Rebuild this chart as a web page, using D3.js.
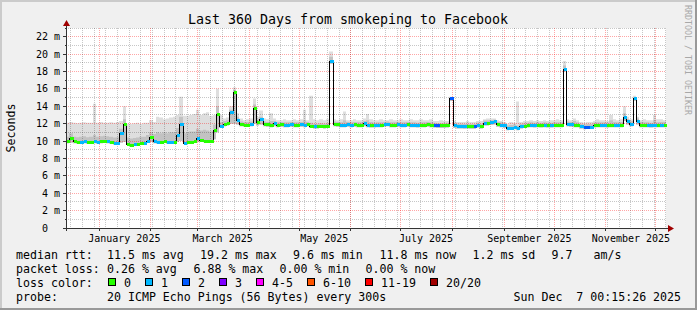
<!DOCTYPE html>
<html>
<head>
<meta charset="utf-8">
<script src="https://cdn.jsdelivr.net/npm/d3@7"></script>
<style>
  body { margin: 0; background: #fff; }
  svg text { font-family: "DejaVu Sans Mono", monospace; fill: #000; white-space: pre; }
</style>
</head>
<body>
<div id="chart"></div>
<script>
// ---- data (one value per 2 days, 360 days ending at endTime) ----
const endTime = new Date(Date.UTC(2025, 11, 7, 0, 15, 26));
const spanDays = 360;
const stepDays = 2;

const median = [
  9.95, 10.35, 9.95, 9.9, 9.9, 9.95, 9.85, 9.9, 9.95, 9.9,
  9.95, 10.0, 9.95, 9.9, 9.75, 9.75, 10.9, 12.0, 9.7, 9.6,
  9.65, 9.7, 9.75, 9.8, 10.0, 10.5, 9.95, 9.9, 9.9, 10.0,
  9.85, 9.9, 9.9, 10.7, 12.0, 9.8, 9.85, 9.9, 9.95, 10.35,
  10.1, 10.05, 10.0, 10.0, 11.3, 13.1, 11.7, 12.0, 12.1, 13.3,
  15.6, 12.4, 12.0, 11.9, 11.9, 12.0, 13.8, 12.2, 12.5, 12.0,
  11.95, 11.9, 12.1, 11.9, 11.95, 11.9, 11.9, 11.95, 11.9, 11.9,
  11.95, 11.9, 12.0, 11.75, 11.7, 11.7, 11.75, 11.7, 11.75, 19.2,
  12.0, 11.95, 11.9, 11.9, 11.95, 11.9, 11.95, 11.9, 11.9, 12.05,
  11.9, 11.85, 11.85, 11.9, 11.9, 11.95, 12.0, 11.9, 11.9, 11.95,
  11.9, 11.9, 11.95, 11.9, 11.9, 11.85, 11.9, 11.9, 11.95, 11.9,
  11.85, 11.8, 11.8, 11.8, 11.85, 14.9, 11.8, 11.75, 11.75, 11.7,
  11.75, 11.7, 11.7, 11.85, 11.75, 12.1, 12.1, 12.15, 12.25, 11.95,
  11.9, 11.8, 11.5, 11.55, 11.6, 11.5, 11.7, 11.75, 11.8, 11.85,
  11.8, 11.85, 11.8, 11.85, 11.8, 11.8, 11.85, 11.85, 11.85, 18.3,
  12.0, 11.95, 11.85, 11.9, 11.7, 11.6, 11.65, 11.65, 11.8, 11.85,
  11.85, 11.85, 11.8, 11.85, 11.9, 11.85, 11.9, 12.8, 12.25, 12.0,
  14.9, 12.3, 11.9, 11.85, 11.85, 11.8, 11.85, 11.85, 11.9, 11.9
];

// lost pings (of 20) per step
const lossCount = [
  0,0,0,0,1,1,0,0,1,1, 0,0,1,0,1,1,1,0,0,0, 1,0,0,1,1,0,1,1,0,0,
  1,1,0,1,1,1,0,0,0,1, 0,0,0,0,0,0,1,0,0,1, 0,1,0,0,0,1,0,0,1,0,
  0,0,1,0,0,1,1,1,0,0, 1,1,0,0,1,0,0,0,0,1, 0,0,1,1,1,1,0,0,0,1,
  1,0,1,1,0,1,1,0,0,1, 1,1,0,1,1,1,0,0,0,0, 2,2,0,0,0,2,1,1,1,1,
  0,0,2,1,0,1,0,1,1,0, 1,1,1,1,1,1,1,0,0,1, 1,0,0,1,0,1,0,0,0,1,
  1,1,0,0,1,2,2,1,0,0, 1,1,0,0,1,1,0,1,1,1, 1,1,0,0,1,1,1,0,1,0
];

const smokeLo = [
  9.75, 9.8, 9.75, 9.7, 9.7, 9.75, 9.7, 9.7, 9.75, 9.7,
  9.75, 9.8, 9.75, 9.7, 9.6, 9.6, 9.8, 9.9, 9.55, 9.45,
  9.5, 9.55, 9.6, 9.65, 9.8, 9.9, 9.75, 9.7, 9.7, 9.8,
  9.7, 9.7, 9.75, 9.9, 10.0, 9.65, 9.7, 9.75, 9.8, 9.9,
  9.9, 9.85, 9.8, 9.8, 10.2, 11.0, 11.5, 11.7, 11.8, 12.0,
  12.0, 11.9, 11.7, 11.65, 11.65, 11.7, 12.0, 11.8, 11.9, 11.7,
  11.65, 11.6, 11.7, 11.6, 11.65, 11.6, 11.6, 11.65, 11.6, 11.6,
  11.65, 11.6, 11.7, 11.5, 11.45, 11.45, 11.5, 11.45, 11.5, 18.9,
  11.7, 11.65, 11.6, 11.6, 11.65, 11.6, 11.65, 11.6, 11.6, 11.7,
  11.6, 11.55, 11.55, 11.6, 11.6, 11.65, 11.7, 11.6, 11.6, 11.65,
  11.6, 11.6, 11.65, 11.6, 11.6, 11.55, 11.6, 11.6, 11.65, 11.6,
  11.55, 11.5, 11.5, 11.5, 11.55, 14.6, 11.5, 11.45, 11.45, 11.4,
  11.45, 11.4, 11.4, 11.55, 11.45, 11.8, 11.8, 11.85, 11.9, 11.65,
  11.6, 11.5, 11.25, 11.3, 11.35, 11.25, 11.45, 11.5, 11.55, 11.6,
  11.55, 11.6, 11.55, 11.6, 11.55, 11.55, 11.6, 11.6, 11.6, 18.0,
  11.7, 11.65, 11.6, 11.6, 11.45, 11.35, 11.4, 11.4, 11.55, 11.6,
  11.6, 11.6, 11.55, 11.6, 11.6, 11.6, 11.6, 12.3, 11.9, 11.7,
  14.6, 11.9, 11.6, 11.6, 11.6, 11.55, 11.6, 11.6, 11.6, 11.6
];

const smokeMid = [
  10.5, 10.9, 10.5, 10.45, 10.5, 10.55, 10.45, 10.5, 10.7, 10.5,
  10.55, 10.6, 10.55, 10.5, 10.4, 10.45, 11.4, 12.5, 10.4, 10.3,
  10.35, 10.4, 10.5, 10.5, 10.7, 11.0, 10.8, 11.0, 10.9, 11.0,
  10.9, 11.0, 11.0, 11.5, 12.8, 10.9, 11.0, 11.1, 11.1, 11.4,
  11.2, 11.3, 11.2, 11.1, 11.9, 14.0, 12.2, 12.3, 12.4, 13.6,
  15.9, 12.8, 12.25, 12.15, 12.2, 12.25, 14.2, 12.5, 12.8, 12.25,
  12.2, 12.3, 12.3, 12.15, 12.2, 12.15, 12.15, 12.2, 12.15, 12.15,
  12.2, 12.4, 12.2, 12.1, 12.0, 12.0, 12.05, 12.0, 12.05, 19.7,
  12.25, 12.2, 12.15, 12.4, 12.2, 12.15, 12.2, 12.15, 12.15, 12.3,
  12.4, 12.2, 12.1, 12.15, 12.15, 12.2, 12.25, 12.15, 12.15, 12.2,
  12.15, 12.15, 12.2, 12.15, 12.15, 12.1, 12.15, 12.15, 12.2, 12.15,
  12.1, 12.05, 12.05, 12.05, 12.1, 15.0, 12.05, 12.0, 12.0, 11.95,
  12.0, 11.95, 11.95, 12.1, 12.0, 12.35, 12.35, 12.4, 12.45, 12.2,
  12.15, 12.05, 11.8, 11.85, 11.9, 11.8, 12.0, 12.05, 12.1, 12.15,
  12.1, 12.15, 12.1, 12.15, 12.1, 12.1, 12.15, 12.15, 12.15, 18.7,
  12.25, 12.2, 12.3, 12.15, 12.0, 11.9, 11.95, 11.95, 12.1, 12.15,
  12.15, 12.15, 12.1, 12.4, 12.2, 12.15, 12.2, 13.2, 12.5, 12.3,
  15.0, 12.6, 12.2, 12.15, 12.15, 12.1, 12.4, 12.15, 12.2, 12.2
];

const smokeHi = [
  12.1, 12.2, 12.1, 12.05, 12.1, 12.15, 12.1, 12.1, 14.3, 12.1,
  12.2, 12.1, 12.1, 12.15, 12.1, 12.2, 12.3, 14.0, 12.0, 12.0,
  12.05, 12.1, 12.0, 12.1, 12.1, 12.4, 12.2, 12.8, 12.7, 12.5,
  12.6, 12.7, 12.8, 13.0, 15.1, 12.9, 12.9, 13.0, 13.1, 13.6,
  13.0, 13.2, 13.3, 12.9, 13.0, 16.0, 13.0, 12.6, 12.7, 14.0,
  16.2, 13.2, 12.6, 12.4, 12.5, 12.6, 14.9, 12.8, 13.5, 12.6,
  12.5, 13.2, 12.6, 12.4, 12.4, 12.5, 12.4, 12.4, 12.5, 12.4,
  12.5, 13.6, 12.4, 15.2, 12.5, 12.4, 12.5, 12.4, 12.5, 20.3,
  12.5, 12.4, 12.5, 13.4, 12.4, 12.4, 12.5, 12.4, 12.4, 12.6,
  13.1, 12.5, 12.4, 12.4, 12.5, 12.4, 12.4, 12.5, 12.4, 12.4,
  12.5, 12.4, 12.4, 12.5, 12.4, 12.4, 12.5, 12.4, 12.4, 12.5,
  12.3, 12.3, 12.4, 12.3, 12.3, 15.1, 12.3, 12.2, 12.2, 12.2,
  12.3, 12.2, 12.2, 12.3, 12.3, 12.5, 12.6, 12.6, 12.6, 12.4,
  12.3, 12.2, 12.0, 12.2, 12.1, 14.55, 12.2, 12.3, 12.3, 12.4,
  12.3, 12.4, 12.3, 12.4, 12.3, 12.4, 12.4, 12.5, 12.4, 19.2,
  12.5, 12.4, 12.6, 12.4, 12.2, 12.1, 12.2, 12.2, 12.3, 12.5,
  12.4, 12.4, 12.3, 13.0, 12.5, 12.4, 12.5, 14.0, 12.8, 12.5,
  15.2, 12.8, 12.4, 12.5, 12.4, 12.4, 13.0, 12.5, 12.5, 12.4
];

const lossLegend = [
  {label: "0",     upTo: 0,  color: "#26ff00"},
  {label: "1",     upTo: 1,  color: "#00b8ff"},
  {label: "2",     upTo: 2,  color: "#0059ff"},
  {label: "3",     upTo: 3,  color: "#7e00ff"},
  {label: "4-5",   upTo: 5,  color: "#ff00ff"},
  {label: "6-10",  upTo: 10, color: "#ff5500"},
  {label: "11-19", upTo: 19, color: "#ff0000"},
  {label: "20/20", upTo: 20, color: "#a10000"}
];

const rttStats  = ["median rtt:", "11.5 ms avg", "19.2 ms max", "9.6 ms min", "11.8 ms now", "1.2 ms sd", "9.7", "am/s"];
const lossStats = ["packet loss:", "0.26 % avg", "6.88 % max", "0.00 % min", "0.00 % now"];
const probeInfo = ["probe:", "20 ICMP Echo Pings (56 Bytes) every 300s", "Sun Dec  7 00:15:26 2025"];

// ---- layout ----
const W = 697, H = 310;
const plot = {left: 66, right: 666, top: 28, bottom: 228};
const startTime = d3.utcDay.offset(endTime, -spanDays);

const x = d3.scaleUtc().domain([startTime, endTime]).range([plot.left, plot.right]);
const y = d3.scaleLinear().domain([0, 23]).range([plot.bottom, plot.top]);
const px = t => Math.round(x(t));

const svg = d3.select("#chart").append("svg")
    .attr("width", W).attr("height", H);

// background + 3d frame like rrdtool
svg.append("rect").attr("width", W).attr("height", H).attr("fill", "#f0f0f0");
svg.append("path").attr("d", `M0,${H} V0 H${W}`).attr("fill", "none")
    .attr("stroke", "#cbcbcb").attr("stroke-width", 4);
svg.append("path").attr("d", `M0,${H} H${W} V0`).attr("fill", "none")
    .attr("stroke", "#999999").attr("stroke-width", 4);

svg.append("rect")
    .attr("x", plot.left).attr("y", plot.top)
    .attr("width", plot.right - plot.left).attr("height", plot.bottom - plot.top)
    .attr("fill", "#fff");

// step data
const steps = median.map((m, i) => ({
    t0: d3.utcDay.offset(startTime, i * stepDays),
    t1: d3.utcDay.offset(startTime, (i + 1) * stepDays),
    med: m, lo: smokeLo[i], mid: smokeMid[i], hi: smokeHi[i], loss: lossCount[i]
}));
const stepped = steps.flatMap(d => [{t: d.t0, d}, {t: d.t1, d}]);

// smoke
const smoke = [
    {top: d => d.hi,  fill: "#dedede"},
    {top: d => d.mid, fill: "#c2c2c2"}
];
smoke.forEach(s => {
    svg.append("path")
        .datum(stepped)
        .attr("fill", s.fill)
        .attr("d", d3.area()
            .x(p => px(p.t))
            .y0(p => y(p.d.lo))
            .y1(p => y(s.top(p.d))));
});

// grid
const grid = svg.append("g").attr("shape-rendering", "crispEdges")
    .attr("stroke-dasharray", "1,1").attr("fill", "none");
const minorCol = "rgba(0,0,0,0.22)", majorCol = "rgba(255,0,0,0.35)";

d3.range(1, 24).forEach(v => {
    const yy = Math.floor(y(v)) + 0.5;
    grid.append("line")
        .attr("x1", plot.left).attr("x2", plot.right)
        .attr("y1", yy).attr("y2", yy)
        .attr("stroke", v % 2 === 0 ? majorCol : minorCol);
});
const months = d3.utcMonth.range(startTime, endTime);
d3.utcSunday.range(startTime, endTime).forEach(t => {
    const xx = Math.floor(x(t)) + 0.5;
    grid.append("line")
        .attr("x1", xx).attr("x2", xx)
        .attr("y1", plot.top).attr("y2", plot.bottom)
        .attr("stroke", minorCol);
});
months.forEach(t => {
    const xx = Math.floor(x(t)) + 0.5;
    grid.append("line")
        .attr("x1", xx).attr("x2", xx)
        .attr("y1", plot.top).attr("y2", plot.bottom)
        .attr("stroke", majorCol);
});

// median line (black) and loss coloured band
svg.append("path")
    .datum(stepped)
    .attr("fill", "none")
    .attr("stroke", "#000")
    .attr("stroke-width", 1)
    .attr("shape-rendering", "crispEdges")
    .attr("d", d3.line().x(p => px(p.t) + 0.5).y(p => Math.round(y(p.d.med)) + 0.5));

const lossColor = c => lossLegend.find(l => c <= l.upTo).color;
svg.append("g").selectAll("rect")
    .data(steps)
    .join("rect")
    .attr("x", d => px(d.t0) + 1)
    .attr("width", d => px(d.t1) - px(d.t0))
    .attr("y", d => Math.round(y(d.med)) - 1)
    .attr("height", 3)
    .attr("fill", d => lossColor(d.loss));

// axes
const axis = svg.append("g").attr("shape-rendering", "crispEdges").attr("stroke", "#333");
axis.append("line").attr("x1", plot.left - 3).attr("x2", plot.right + 3)
    .attr("y1", plot.bottom + 0.5).attr("y2", plot.bottom + 0.5);
axis.append("line").attr("x1", plot.left + 0.5).attr("x2", plot.left + 0.5)
    .attr("y1", plot.bottom + 3).attr("y2", plot.top - 3);
d3.range(1, 24).forEach(v => {
    const yy = Math.floor(y(v)) + 0.5;
    axis.append("line").attr("x1", plot.left - (v % 2 ? 1 : 3)).attr("x2", plot.left)
        .attr("y1", yy).attr("y2", yy);
});
months.forEach(t => {
    const xx = Math.floor(x(t)) + 0.5;
    axis.append("line").attr("x1", xx).attr("x2", xx)
        .attr("y1", plot.bottom).attr("y2", plot.bottom + 3);
});
const arrowCol = "#a00000";
svg.append("path")
    .attr("d", `M${plot.right + 2},${plot.bottom - 3} L${plot.right + 8},${plot.bottom + 0.5} L${plot.right + 2},${plot.bottom + 4} Z`)
    .attr("fill", arrowCol);
svg.append("path")
    .attr("d", `M${plot.left - 3},${plot.top - 2} L${plot.left + 0.5},${plot.top - 8} L${plot.left + 4},${plot.top - 2} Z`)
    .attr("fill", arrowCol);

// y tick labels
svg.append("g").selectAll("text")
    .data(d3.range(0, 23, 2))
    .join("text")
    .attr("x", 60)
    .attr("y", v => y(v) + 3.5)
    .attr("text-anchor", "end")
    .attr("font-size", "10px")
    .text(v => v === 0 ? "0  " : v + " m");

// x tick labels (every second month, centred mid-month)
svg.append("g").selectAll("text")
    .data(months.filter(t => t.getUTCMonth() % 2 === 0))
    .join("text")
    .attr("x", t => x(d3.utcDay.offset(t, 15)))
    .attr("y", 241.5)
    .attr("text-anchor", "middle")
    .attr("font-size", "10px")
    .text(d3.utcFormat("%B %Y"));

// title, unit label, watermark
svg.append("text").attr("x", 348).attr("y", 23.5)
    .attr("text-anchor", "middle").attr("font-size", "13.3px")
    .text("Last 360 Days from smokeping to Facebook");
svg.append("text")
    .attr("transform", "translate(15,128) rotate(-90)")
    .attr("text-anchor", "middle").attr("font-size", "11.6px")
    .text("Seconds");
svg.append("text")
    .attr("transform", "translate(684.5,60) rotate(90)")
    .attr("text-anchor", "middle").attr("font-size", "8.3px")
    .style("fill", "#a8a8a8")
    .text("RRDTOOL / TOBI OETIKER");

// legend
const legend = svg.append("g").attr("font-size", "11.6px");
const row = (items, xs, yy) => items.forEach((s, i) =>
    legend.append("text").attr("x", xs[i]).attr("y", yy).text(s));
row(rttStats,  [16, 107, 200, 293, 379.5, 472.5, 551.5, 593.5], 258.5);
row(lossStats, [16, 107, 193.5, 279.5, 365.5], 272.5);
legend.append("text").attr("x", 16).attr("y", 286.5).text("loss color:");
const swX = [108.5, 145.5, 182.5, 219.5, 256.5, 307.5, 365.5, 430.5];
lossLegend.forEach((l, i) => {
    legend.append("rect").attr("x", swX[i]).attr("y", 278.5)
        .attr("width", 7).attr("height", 7)
        .attr("fill", l.color).attr("stroke", "#000").attr("stroke-width", 1);
    legend.append("text").attr("x", swX[i] + 15.5).attr("y", 286.5).text(l.label);
});
row(probeInfo, [16, 107, 513.5], 300.5);
</script>
</body>
</html>
